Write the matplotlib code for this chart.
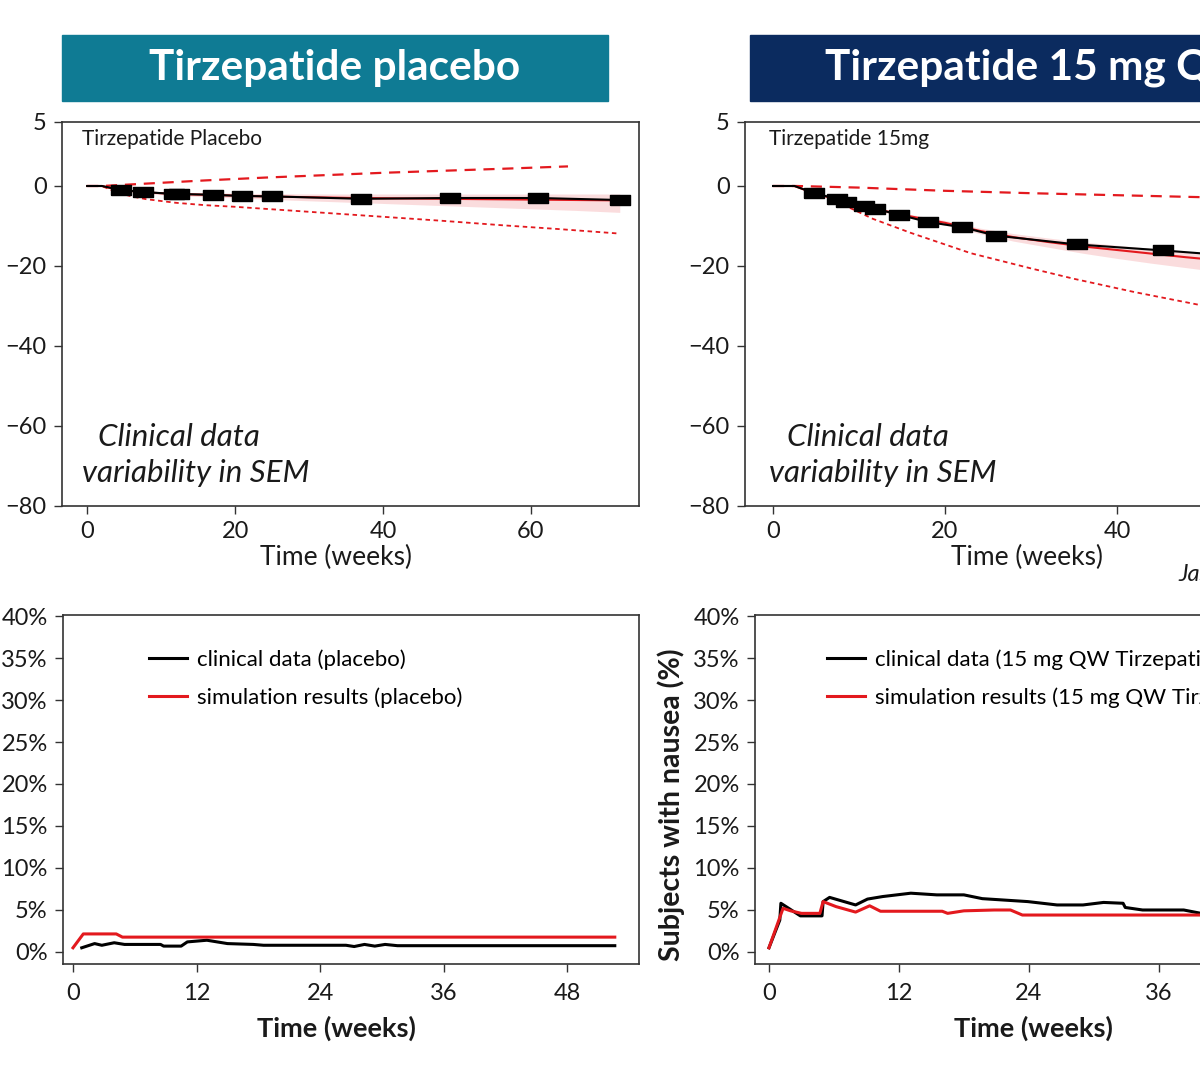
import matplotlib
matplotlib.use("Agg")
import matplotlib.pyplot as plt
from matplotlib.patches import Rectangle
from matplotlib.path import Path

plt.rcParams['font.family'] = ['Lato', 'DejaVu Sans']

RED = '#e3191e'
DARK = '#1a1a1a'

# --- weight change, placebo (top left) ---
pl_clin_wk = [0, 2, 4.6, 7.6, 11.8, 12.4, 17, 21, 25, 37, 49, 61, 72]
pl_clin = [0, 0, -1.0, -1.5, -2.0, -2.0, -2.2, -2.5, -2.6, -3.2, -3.0, -3.0, -3.5]
pl_sim_wk = [0, 2, 4, 8, 12, 16, 20, 24, 30, 36, 42, 48, 54, 60, 66, 72]
pl_sim = [0, 0, -0.9, -1.6, -2.0, -2.2, -2.4, -2.6, -2.8, -3.0, -3.1, -3.2, -3.3, -3.4, -3.5, -3.6]
pl_sim_hi = [0, 0, -0.7, -1.3, -1.6, -1.7, -1.8, -1.9, -2.0, -2.0, -2.0, -2.0, -2.0, -2.0, -2.0, -2.0]
pl_sim_lo = [0, 0, -1.1, -1.9, -2.4, -2.7, -3.0, -3.3, -3.7, -4.1, -4.5, -4.9, -5.3, -5.7, -6.1, -6.6]
pl_up_wk = [0, 2, 8, 16, 24, 32, 40, 48, 56, 65]
pl_up = [0, 0, 0.6, 1.4, 2.1, 2.7, 3.3, 3.8, 4.3, 4.9]
pl_low_wk = [0, 2, 4, 6, 8, 12, 16, 20, 24, 32, 40, 48, 56, 64, 72]
pl_low = [0, 0, -1.6, -2.6, -3.3, -4.2, -4.8, -5.2, -5.7, -6.7, -7.7, -8.7, -9.8, -10.8, -11.9]

# --- weight change, 15 mg (top right) ---
tz_clin_wk = [0, 2.5, 4.8, 7.4, 8.5, 10.6, 11.9, 14.7, 18, 22, 25.9, 35.3, 45.3, 52, 60, 72]
tz_clin = [0, 0, -1.8, -3.2, -3.9, -4.9, -5.7, -7.2, -9.0, -10.3, -12.4, -14.6, -16.1, -17.2, -18.3, -19.5]
tz_sim_wk = [0, 2.5, 5, 8, 12, 16, 20, 24, 28, 32, 36, 40, 44, 48, 52, 60, 72]
tz_sim = [0, 0, -2.0, -3.6, -5.8, -7.6, -9.2, -11.2, -12.8, -14.0, -15.1, -16.0, -16.9, -17.8, -18.6, -19.6, -21.0]
tz_sim_hi = [0, 0, -1.8, -3.3, -5.4, -7.1, -8.6, -10.5, -11.9, -13.0, -14.0, -14.8, -15.6, -16.3, -17.0, -18.0, -19.0]
tz_sim_lo = [0, 0, -2.2, -3.9, -6.2, -8.1, -9.8, -11.9, -13.8, -15.3, -16.8, -18.1, -19.3, -20.4, -21.5, -23.5, -26.0]
tz_up_wk = [0, 2.8, 10, 20, 30, 40, 50, 60, 72]
tz_up = [0, 0, -0.4, -1.2, -1.8, -2.3, -2.8, -3.2, -3.8]
tz_low_wk = [0, 2.8, 5, 8, 11.6, 16, 23, 30, 35, 42, 50, 60, 72]
tz_low = [0, 0, -2.0, -4.5, -8.2, -11.7, -16.8, -20.6, -23.2, -26.5, -29.9, -33.5, -38.0]

# --- nausea, placebo (bottom left) ---
pn_clin_wk = [0.85, 2.1, 2.8, 4.0, 5.0, 8.5, 8.8, 10.5, 11.1, 13.0, 15.0, 17.5, 18.5,
              26.5, 27.3, 28.3, 29.3, 30.3, 31.5, 37.0, 38.0, 52.6]
pn_clin = [0.5, 1.0, 0.8, 1.1, 0.9, 0.9, 0.7, 0.7, 1.2, 1.4, 1.0, 0.9, 0.8,
           0.8, 0.65, 0.9, 0.7, 0.9, 0.75, 0.75, 0.75, 0.75]
pn_sim_wk = [0, 1.0, 4.2, 4.8, 52.6]
pn_sim = [0.5, 2.15, 2.15, 1.77, 1.77]

# --- nausea, 15 mg (bottom right) ---
tn_clin_wk = [0, 1.0, 1.1, 2.9, 4.9, 5.0, 5.6, 8.0, 9.1, 10.5, 13.1, 15.5, 18.0, 19.7,
              23.9, 26.6, 29.0, 30.9, 32.7, 32.9, 34.5, 38.3, 39.9, 44, 52]
tn_clin = [0.5, 3.8, 5.8, 4.3, 4.3, 6.0, 6.5, 5.6, 6.3, 6.6, 7.0, 6.8, 6.8, 6.35,
           6.0, 5.6, 5.6, 5.9, 5.8, 5.3, 5.0, 5.0, 4.6, 4.5, 4.5]
tn_sim_wk = [0, 1.3, 2.0, 3.0, 4.7, 5.0, 6.2, 8.0, 9.3, 10.3, 16.0, 16.5, 18.0,
             20.8, 22.3, 23.4, 52]
tn_sim = [0.5, 5.2, 4.9, 4.6, 4.6, 6.0, 5.4, 4.75, 5.5, 4.85, 4.85, 4.6, 4.9,
          5.0, 5.0, 4.4, 4.4]

W, H = 1200, 1080
fig = plt.figure(figsize=(12, 10.8), dpi=100)


def px_axes(x0, y0, x1, y1):
    return fig.add_axes([x0 / W, 1 - y1 / H, (x1 - x0) / W, (y1 - y0) / H])


def style(ax):
    for s in ax.spines.values():
        s.set_color('#333333')
        s.set_linewidth(1.2)
    ax.tick_params(direction='out', length=6, width=1, colors='#333333',
                   labelcolor=DARK, labelsize=17, pad=5)


# wide rectangle marker for clinical means
box = Path([(-1, -0.5), (1, -0.5), (1, 0.5), (-1, 0.5), (-1, -0.5)])


def weight_panel(ax, cw, cv, sw, sv, shi, slo, uw, uv, lw_, lv, label, xl):
    ax.fill_between(sw, slo, shi, color=RED, alpha=0.15, lw=0)
    ax.plot(lw_, lv, color=RED, lw=1.3, ls=(0, (2.5, 2)))
    ax.plot(uw, uv, color=RED, lw=1.6, ls=(0, (5, 3.5)))
    ax.plot(sw, sv, color=RED, lw=1.5)
    ax.plot(cw, cv, color='black', lw=1.5, marker=box, ms=14,
            markevery=list(range(2, len(cw))))
    ax.set_ylim(-80, 16)
    ax.set_yticks([16, 0, -20, -40, -60, -80],
                  labels=['5', '0', '\u221220', '\u221240', '\u221260', '\u221280'])
    ax.set_xticks([0, 20, 40, 60])
    ax.set_xlabel('Time (weeks)', fontsize=19, color=DARK, labelpad=2, x=xl)
    ax.text(0.035, 0.955, label, transform=ax.transAxes, fontsize=15,
            color=DARK, va='center')
    ax.text(0.062, 0.18, 'Clinical data', transform=ax.transAxes, fontsize=22.5,
            style='italic', color=DARK, va='center')
    ax.text(0.035, 0.086, 'variability in SEM', transform=ax.transAxes,
            fontsize=22.5, style='italic', color=DARK, va='center')
    style(ax)


ax1 = px_axes(62, 122, 639, 506)
weight_panel(ax1, pl_clin_wk, pl_clin, pl_sim_wk, pl_sim, pl_sim_hi, pl_sim_lo,
             pl_up_wk, pl_up, pl_low_wk, pl_low, 'Tirzepatide Placebo', 0.475)
ax1.set_xlim(-3.4, 74.6)

ax2 = px_axes(745, 122, 1417, 506)
weight_panel(ax2, tz_clin_wk, tz_clin, tz_sim_wk, tz_sim, tz_sim_hi, tz_sim_lo,
             tz_up_wk, tz_up, tz_low_wk, tz_low, 'Tirzepatide 15mg', 0.42)
ax2.set_xlim(-3.26, 74.9)


def nausea_panel(ax, cw, cv, sw, sv, clab, slab, lx, xl):
    ax.plot(cw, cv, color='black', lw=2.2, label=clab)
    ax.plot(sw, sv, color=RED, lw=2.2, label=slab)
    ax.set_ylim(-1.43, 40.12)
    ax.set_yticks(range(0, 41, 5), labels=[f'{v}%' for v in range(0, 41, 5)])
    ax.set_xticks([0, 12, 24, 36, 48])
    ax.set_xlabel('Time (weeks)', fontsize=19.5, fontweight='bold', color=DARK,
                  labelpad=8, x=xl)
    ax.set_ylabel('Subjects with nausea (%)', fontsize=20.5, fontweight='bold',
                  color=DARK, labelpad=6, y=0.455)
    ax.legend(loc='upper left', bbox_to_anchor=(lx, 0.96), frameon=False,
              fontsize=16, handlelength=1.7, handletextpad=0.45,
              labelspacing=0.8)
    style(ax)
    ax.tick_params(axis='x', pad=8)


ax3 = px_axes(63, 615, 639, 964)
nausea_panel(ax3, pn_clin_wk, pn_clin, pn_sim_wk, pn_sim,
             'clinical data (placebo)', 'simulation results (placebo)', 0.115, 0.475)
ax3.set_xlim(-0.97, 54.95)

ax4 = px_axes(755, 615, 1331, 964)
nausea_panel(ax4, tn_clin_wk, tn_clin, tn_sim_wk, tn_sim,
             'clinical data (15 mg QW Tirzepatide)',
             'simulation results (15 mg QW Tirzepatide)', 0.09, 0.484)
ax4.set_xlim(-1.29, 51.9)

# header banners
fig.patches.append(Rectangle((62 / W, 1 - 101 / H), 546 / W, 66 / H,
                             transform=fig.transFigure, color='#0f7b94'))
fig.text(335 / W, 1 - 68 / H, 'Tirzepatide placebo', color='white',
         fontsize=30.5, fontweight='bold', ha='center', va='center')
fig.patches.append(Rectangle((750 / W, 1 - 101 / H), 560 / W, 66 / H,
                             transform=fig.transFigure, color='#0b2b5f'))
fig.text(825 / W, 1 - 68 / H, 'Tirzepatide 15 mg QW', color='white',
         fontsize=30.5, fontweight='bold', ha='left', va='center')

fig.text(1178 / W, 1 - 575 / H, 'Jastreboff et al.', fontsize=17,
         style='italic', color=DARK, va='center')

fig.savefig('out.png', dpi=100)
